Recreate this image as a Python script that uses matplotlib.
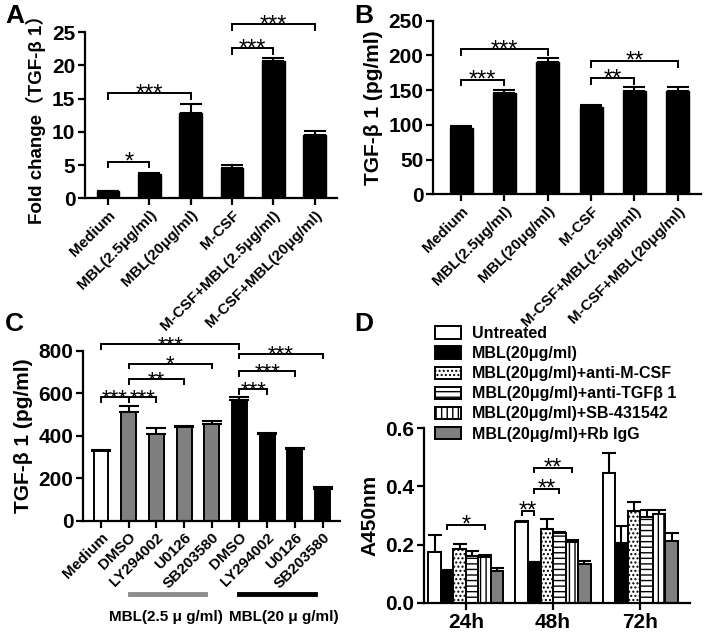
import matplotlib
matplotlib.use("Agg")
import matplotlib.pyplot as plt
import numpy as np
from matplotlib.patches import Patch

plt.rcParams['font.family'] = ['Liberation Sans', 'Noto Sans CJK SC', 'DejaVu Sans']
plt.rcParams['font.weight'] = 'bold'
plt.rcParams['hatch.linewidth'] = 1.0

# ---------------- data ----------------
a_labels = ["Medium", "MBL(2.5μg/ml)", "MBL(20μg/ml)", "M-CSF",
            "M-CSF+MBL(2.5μg/ml)", "M-CSF+MBL(20μg/ml)"]
a_vals = [1.05, 3.6, 12.8, 4.6, 20.7, 9.6]
a_err = [0.1, 0.25, 1.35, 0.45, 0.4, 0.6]
a_brackets = [(0, 1, 5.5, "*"), (0, 2, 15.8, "***"), (3, 4, 22.6, "***"), (3, 5, 26.2, "***")]

b_labels = a_labels
b_vals = [95, 146, 191, 125, 149, 149]
b_err = [4, 4.5, 5, 3, 5, 5]
b_brackets = [(0, 1, 165, "***"), (0, 2, 209, "***"), (3, 4, 167, "**"), (3, 5, 192, "**")]

c_labels = ["Medium", "DMSO", "LY294002", "U0126", "SB203580",
            "DMSO", "LY294002", "U0126", "SB203580"]
c_vals = [330, 514, 408, 441, 457, 567, 411, 340, 150]
c_err = [5, 26, 30, 6, 15, 15, 4, 4, 8]
c_groups = ["none", "low", "low", "low", "low", "high", "high", "high", "high"]
c_brackets = [(0, 1, 583, "***"), (1, 2, 583, "***"), (1, 3, 668, "**"), (1, 4, 741, "*"),
              (0, 5, 831, "***"), (5, 6, 621, "***"), (5, 7, 705, "***"), (5, 8, 788, "***")]
c_group_text = ["MBL(2.5 μ g/ml)", "MBL(20 μ g/ml)"]

d_groups = ["24h", "48h", "72h"]
d_series = ["Untreated", "MBL(20μg/ml)", "MBL(20μg/ml)+anti-M-CSF",
            "MBL(20μg/ml)+anti-TGFβ 1", "MBL(20μg/ml)+SB-431542", "MBL(20μg/ml)+Rb IgG"]
d_untreated = [0.175, 0.278, 0.446]
d_mbl = [0.109, 0.139, 0.207]
d_anti_mcsf = [0.186, 0.253, 0.316]
d_anti_tgf = [0.160, 0.240, 0.295]
d_sb = [0.158, 0.209, 0.305]
d_rbigg = [0.109, 0.133, 0.213]
d_untreated_err = [0.057, 0.004, 0.067]
d_mbl_err = [0.003, 0.003, 0.057]
d_anti_mcsf_err = [0.017, 0.034, 0.031]
d_anti_tgf_err = [0.017, 0.003, 0.023]
d_sb_err = [0.005, 0.006, 0.015]
d_rbigg_err = [0.011, 0.010, 0.026]
# brackets: (group, series_i, series_j, y, text)
d_brackets = [(0, 1, 4, 0.269, "*"), (1, 0, 1, 0.317, "**"),
              (1, 1, 3, 0.392, "**"), (1, 1, 4, 0.463, "**")]

# ---------------- style ----------------
W, H = 706, 633
fig = plt.figure(figsize=(W / 100, H / 100), dpi=100)

def fx(px):
    return px / W

def fy(py):
    return 1 - py / H

def make_ax(l, r, t, b):
    return fig.add_axes([fx(l), fy(b), fx(r) - fx(l), fy(t) - fy(b)])

LW = 1.6

def style(ax, xsize):
    for s in ['top', 'right']:
        ax.spines[s].set_visible(False)
    for s in ['left', 'bottom']:
        ax.spines[s].set_linewidth(LW)
    ax.tick_params(width=LW, length=5, direction='out', pad=2)
    ax.tick_params(axis='y', labelsize=15)
    ax.tick_params(axis='x', labelsize=xsize)
    for lab in ax.get_yticklabels() + ax.get_xticklabels():
        lab.set_fontweight('bold')

def bracket(ax, x1, x2, y, text, tick, fs=17):
    ax.plot([x1, x1, x2, x2], [y - tick, y, y, y - tick], color='black', lw=1.4,
            clip_on=False, solid_joinstyle='miter')
    ax.annotate(text, xy=((x1 + x2) / 2, y), xytext=(0, -5), textcoords='offset points',
                ha='center', va='baseline', fontsize=fs, fontweight='normal', annotation_clip=False)

def errbars(ax, x, vals, err, cap):
    ax.errorbar(x, vals, yerr=[np.zeros(len(vals)), err], fmt='none', ecolor='black',
                elinewidth=1.5, capsize=cap, capthick=1.5, zorder=1)

XT = 11

# ---------------- Panel A ----------------
axA = make_ax(85, 337, 32.3, 198.3)
xa = np.arange(len(a_labels))
errbars(axA, xa, a_vals, a_err, 8)
axA.bar(xa, a_vals, width=0.55, color='black', edgecolor='black', zorder=2)
axA.set_ylim(0, 25)
axA.set_yticks([0, 5, 10, 15, 20, 25])
axA.set_xlim(-0.56, 5.54)
axA.set_xticks(xa)
axA.set_xticklabels(a_labels, rotation=45, ha='right', rotation_mode='anchor')
axA.set_ylabel("Fold change（TGF-β 1）", fontsize=13.5, fontweight='bold', labelpad=4)
style(axA, XT)
for i, j, y, t in a_brackets:
    bracket(axA, xa[i], xa[j], y, t, 0.8)

# ---------------- Panel B ----------------
axB = make_ax(433, 701, 20.7, 194.3)
xb = np.arange(len(b_labels))
errbars(axB, xb, b_vals, b_err, 8)
axB.bar(xb, b_vals, width=0.53, color='black', edgecolor='black', zorder=2)
axB.set_ylim(0, 250)
axB.set_yticks([0, 50, 100, 150, 200, 250])
axB.set_xlim(-0.65, 5.54)
axB.set_xticks(xb)
axB.set_xticklabels(b_labels, rotation=45, ha='right', rotation_mode='anchor')
axB.set_ylabel("TGF-β 1 (pg/ml)", fontsize=15, fontweight='bold', labelpad=4)
style(axB, XT)
for i, j, y, t in b_brackets:
    bracket(axB, xb[i], xb[j], y, t, 8)

# ---------------- Panel C ----------------
axC = make_ax(83, 340, 351, 520.7)
xc = np.arange(len(c_labels))
cmap = {"none": "white", "low": "#7f7f7f", "high": "black"}
errbars(axC, xc, c_vals, c_err, 7)
axC.bar(xc, c_vals, width=0.54, color=[cmap[g] for g in c_groups], edgecolor='black',
        linewidth=1.4, zorder=2)
axC.set_ylim(0, 800)
axC.set_yticks([0, 200, 400, 600, 800])
axC.set_xlim(-0.65, 8.63)
axC.set_xticks(xc)
axC.set_xticklabels(c_labels, rotation=45, ha='right', rotation_mode='anchor')
axC.set_ylabel("TGF-β 1 (pg/ml)", fontsize=15, fontweight='bold', labelpad=4)
style(axC, 11)
for i, j, y, t in c_brackets:
    bracket(axC, xc[i], xc[j], y, t, 22, fs=16)
# group lines below
lines_y = fy(594)
fig.add_artist(plt.Line2D([fx(130), fx(205)], [lines_y, lines_y], color='#8c8c8c', lw=3.5))
fig.add_artist(plt.Line2D([fx(239), fx(315)], [lines_y, lines_y], color='black', lw=3.5))
fig.text(fx(166), fy(617), c_group_text[0], ha='center', va='center', fontsize=11, fontweight='bold')
fig.text(fx(284), fy(617), c_group_text[1], ha='center', va='center', fontsize=11, fontweight='bold')

# ---------------- Panel D ----------------
axD = make_ax(424, 690, 428, 603)
xd = np.arange(len(d_groups))
d_vals = [d_untreated, d_mbl, d_anti_mcsf, d_anti_tgf, d_sb, d_rbigg]
d_errs = [d_untreated_err, d_mbl_err, d_anti_mcsf_err, d_anti_tgf_err, d_sb_err, d_rbigg_err]
d_face = ['white', 'black', 'white', 'white', 'white', '#7f7f7f']
d_hatch = [None, None, '....', '---', '|||', None]
bw = 0.1437
offs = (np.arange(6) - 2.5) * bw
for k in range(6):
    xs = xd + offs[k]
    errbars(axD, xs, d_vals[k], d_errs[k], 5)
    axD.bar(xs, d_vals[k], width=bw, color=d_face[k], edgecolor='black', hatch=d_hatch[k],
            linewidth=1.4, zorder=2)
axD.set_ylim(0, 0.6)
axD.set_yticks([0.0, 0.2, 0.4, 0.6])
axD.set_yticklabels(["0.0", "0.2", "0.4", "0.6"])
axD.set_xlim(-0.48, 2.57)
axD.set_xticks(xd)
axD.set_xticklabels(d_groups)
axD.set_ylabel("A450nm", fontsize=15, fontweight='bold', labelpad=4)
style(axD, 15)
for g, i, j, y, t in d_brackets:
    bracket(axD, xd[g] + offs[i], xd[g] + offs[j], y, t, 0.015)
handles = [Patch(facecolor=d_face[k], edgecolor='black', hatch=d_hatch[k], linewidth=1.4)
           for k in range(6)]
fig.legend(handles, d_series, loc='upper left', bbox_to_anchor=(fx(435), fy(326)),
           frameon=False, handlelength=1.6, handleheight=0.8,
           labelspacing=0.32, handletextpad=0.7, borderaxespad=0, borderpad=0,
           prop={'weight': 'bold', 'size': 11.5})

# panel letters
for letter, (px, py) in zip("ABCD", [(5, 4), (354, 4), (5, 312), (354, 312)]):
    fig.text(fx(px), fy(py), letter, ha='left', va='top', fontsize=19, fontweight='bold')

fig.savefig("out.png", dpi=100)
